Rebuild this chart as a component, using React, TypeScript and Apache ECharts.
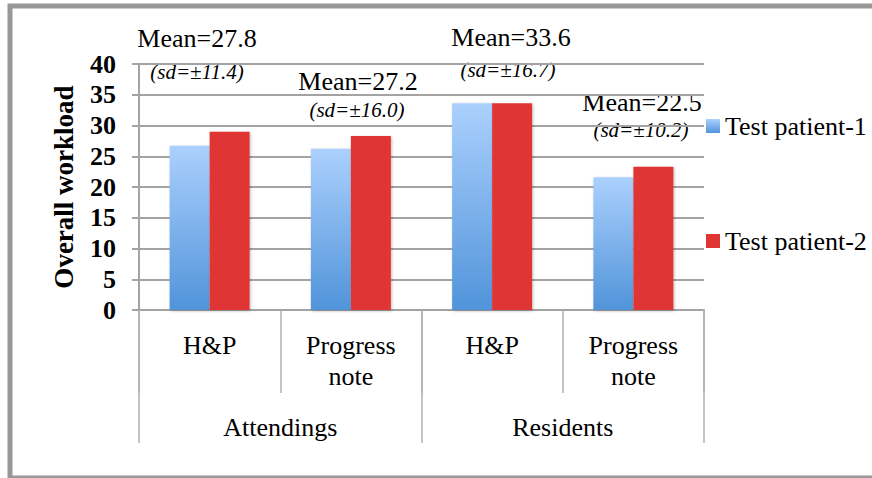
import React, { useEffect, useRef } from "react";
import * as echarts from "echarts";

// Note types per physician group, and their groups
const noteTypes = ["H&P", "Progress\nnote", "H&P", "Progress\nnote"];
const groups = ["Attendings", "Residents"];

// Overall workload score per note type
const patient1 = [26.7, 26.2, 33.6, 21.6];
const patient2 = [29.0, 28.3, 33.6, 23.3];

// Annotations: mean and standard deviation for each note type
const meanLabels = ["Mean=27.8", "Mean=27.2", "Mean=33.6", "Mean=22.5"];
const sdLabels = ["(sd=±11.4)", "(sd=±16.0)", "(sd=±16.7)", "(sd=±10.2)"];

const yTicks = { min: 0, max: 40, interval: 5 };

const SERIF = "Liberation Serif";
const GRID_GRAY = "#a3a3a3";

// Positions of the mean / sd annotation pairs
const annotationPos = [
  { mx: 197, my: 38, sx: 197, sy: 72 },
  { mx: 358, my: 81, sx: 357, sy: 110 },
  { mx: 511, my: 37, sx: 508, sy: 70 },
  { mx: 642, my: 102, sx: 641, sy: 130 },
];

export default function App() {
  const ref = useRef<HTMLDivElement>(null);

  useEffect(() => {
    if (!ref.current) return;
    const chart = echarts.init(ref.current, undefined, { renderer: "svg" });

    const blueGradient = new echarts.graphic.LinearGradient(0, 0, 0, 1, [
      { offset: 0, color: "#abd0fd" },
      { offset: 1, color: "#5194da" },
    ]);

    const annotations: any[] = [];
    annotationPos.forEach((p, i) => {
      annotations.push({
        type: "text",
        x: p.mx,
        y: p.my,
        style: {
          text: meanLabels[i],
          font: `26px ${SERIF}`,
          fill: "#000",
          align: "center",
          verticalAlign: "middle",
        },
      });
      annotations.push({
        type: "text",
        x: p.sx,
        y: p.sy,
        style: {
          text: sdLabels[i],
          font: `italic 21px ${SERIF}`,
          fill: "#000",
          align: "center",
          verticalAlign: "middle",
        },
      });
    });

    chart.setOption({
      animation: false,
      backgroundColor: "#fff",
      grid: { left: 139, right: 168, top: 64, bottom: 168, containLabel: false },
      legend: {
        orient: "vertical",
        left: 706,
        top: 110,
        padding: 0,
        icon: "rect",
        itemWidth: 14,
        itemHeight: 14,
        itemGap: 83,
        data: ["Test patient-1", "Test patient-2"],
        textStyle: {
          fontFamily: SERIF,
          fontSize: 26,
          color: "#000",
          lineHeight: 28,
          padding: [4, 0, 0, 0],
        },
      },
      xAxis: [
        {
          type: "category",
          data: noteTypes,
          position: "bottom",
          axisLine: { show: true, lineStyle: { color: GRID_GRAY, width: 2 } },
          axisTick: {
            show: true,
            length: 83,
            interval: 0,
            lineStyle: { color: "#b0b0b0", width: 1.5 },
          },
          axisLabel: {
            interval: 0,
            margin: 20,
            fontFamily: SERIF,
            fontSize: 26,
            lineHeight: 31,
            color: "#000",
          },
        },
        {
          type: "category",
          data: groups,
          position: "bottom",
          axisLine: { show: false },
          axisTick: {
            show: true,
            length: 133,
            interval: 0,
            lineStyle: { color: "#b0b0b0", width: 1.5 },
          },
          axisLabel: {
            interval: 0,
            margin: 104,
            fontFamily: SERIF,
            fontSize: 26,
            color: "#000",
          },
        },
      ],
      yAxis: {
        type: "value",
        min: yTicks.min,
        max: yTicks.max,
        interval: yTicks.interval,
        name: "Overall workload",
        nameLocation: "middle",
        nameRotate: 90,
        nameGap: 62,
        nameTextStyle: {
          fontFamily: SERIF,
          fontWeight: "bold",
          fontSize: 27,
          color: "#000",
        },
        axisLine: { show: true, lineStyle: { color: GRID_GRAY, width: 2 } },
        axisTick: { show: true, length: 7, lineStyle: { color: GRID_GRAY, width: 2 } },
        axisLabel: {
          margin: 23,
          fontFamily: SERIF,
          fontWeight: "bold",
          fontSize: 26,
          color: "#000",
        },
        splitLine: { show: true, lineStyle: { color: GRID_GRAY, width: 2 } },
      },
      series: [
        {
          name: "Test patient-1",
          type: "bar",
          data: patient1,
          barWidth: 40,
          barGap: "0%",
          itemStyle: {
            color: blueGradient,
            shadowColor: "rgba(0,0,0,0.25)",
            shadowBlur: 3,
            shadowOffsetX: 1,
            shadowOffsetY: 1,
          },
        },
        {
          name: "Test patient-2",
          type: "bar",
          data: patient2,
          barWidth: 40,
          barGap: "0%",
          itemStyle: {
            color: "#df3535",
            shadowColor: "rgba(0,0,0,0.25)",
            shadowBlur: 3,
            shadowOffsetX: 1,
            shadowOffsetY: 1,
          },
        },
      ],
      graphic: [
        {
          type: "rect",
          shape: { x: 10, y: 6, width: 900, height: 472 },
          style: { fill: "none", stroke: "#989898", lineWidth: 5 },
          silent: true,
          z: 100,
        },
        ...annotations,
      ],
    });

    return () => chart.dispose();
  }, []);

  return (
    <div
      ref={ref}
      style={{ position: "absolute", left: 0, top: 0, width: 872, height: 478 }}
    />
  );
}
